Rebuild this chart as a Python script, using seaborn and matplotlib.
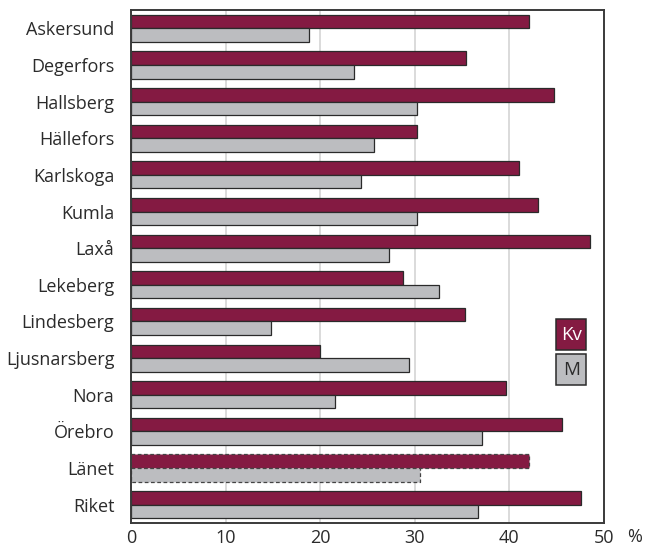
import matplotlib
matplotlib.use("Agg")
import matplotlib.pyplot as plt
from matplotlib.patches import Rectangle
import seaborn as sns
import pandas as pd

kommuner = ["Askersund", "Degerfors", "Hallsberg", "Hällefors", "Karlskoga", "Kumla",
            "Laxå", "Lekeberg", "Lindesberg", "Ljusnarsberg", "Nora", "Örebro", "Länet", "Riket"]
kvinnor = [42.1, 35.4, 44.7, 30.2, 41.0, 43.0, 48.5, 28.8, 35.3, 20.0, 39.6, 45.6, 42.1, 47.6]
man = [18.8, 23.6, 30.2, 25.7, 24.3, 30.2, 27.3, 32.6, 14.8, 29.4, 21.6, 37.1, 30.5, 36.7]
series = ["Kv", "M"]
xticks = [0, 10, 20, 30, 40, 50]

df = pd.DataFrame({
    "Kommun": kommuner * 2,
    "Kön": [series[0]] * len(kommuner) + [series[1]] * len(kommuner),
    "Andel": kvinnor + man,
})

sns.set_theme(style="white")
plt.rcParams["font.family"] = ["Open Sans", "DejaVu Sans"]

KV_COL = "#841A42"
M_COL = "#BCBDC0"
EDGE = "#2a2a2a"
TXT = "#2b2b2b"
FS = 13

fig = plt.figure(figsize=(6.49, 5.48), dpi=100)
ax = fig.add_axes([0.2018, 0.0456, 0.7289, 0.9362])

for x in xticks[1:-1]:
    ax.axvline(x, color="#d4d4d4", lw=1.2, zorder=0)

sns.barplot(data=df, y="Kommun", x="Andel", hue="Kön", hue_order=series,
            order=kommuner, palette={"Kv": KV_COL, "M": M_COL}, orient="h",
            width=0.74, saturation=1, edgecolor=EDGE, linewidth=0.9,
            legend=False, ax=ax, zorder=2)

idx_lanet = kommuner.index("Länet")
for p in ax.patches:
    cy = p.get_y() + p.get_height() / 2
    if abs(cy - idx_lanet) < 0.5:
        p.set_linestyle((0, (3, 2)))
        p.set_edgecolor("#444444")

ax.set_xlim(0, 50)
ax.set_ylim(len(kommuner) - 0.5, -0.5)
ax.set_xticks(xticks)
ax.set_xticklabels([str(t) for t in xticks])
ax.set_xlabel("")
ax.set_ylabel("")
ax.tick_params(axis="both", length=0, labelsize=FS, colors=TXT)
ax.tick_params(axis="y", pad=12)
ax.tick_params(axis="x", pad=4)
ax.grid(False)

for s in ax.spines.values():
    s.set_visible(True)
    s.set_color("#3a3a3a")
    s.set_linewidth(1.4)

ax.text(1.048, -0.010, "%", transform=ax.transAxes, ha="left", va="top",
        fontsize=FS, color=TXT)

# legend boxes with labels inside
bw, bh = 0.0634, 0.0604
for label, fc, tc, cy in [("Kv", KV_COL, "white", 0.3674), ("M", M_COL, TXT, 0.299)]:
    ax.add_patch(Rectangle((0.931 - bw / 2, cy - bh / 2), bw, bh, transform=ax.transAxes,
                           facecolor=fc, edgecolor=EDGE, lw=1.1, zorder=4))
    ax.text(0.931, cy, label, transform=ax.transAxes, ha="center", va="center",
            fontsize=13.5, color=tc, zorder=5)

fig.savefig("out.png", dpi=100)
